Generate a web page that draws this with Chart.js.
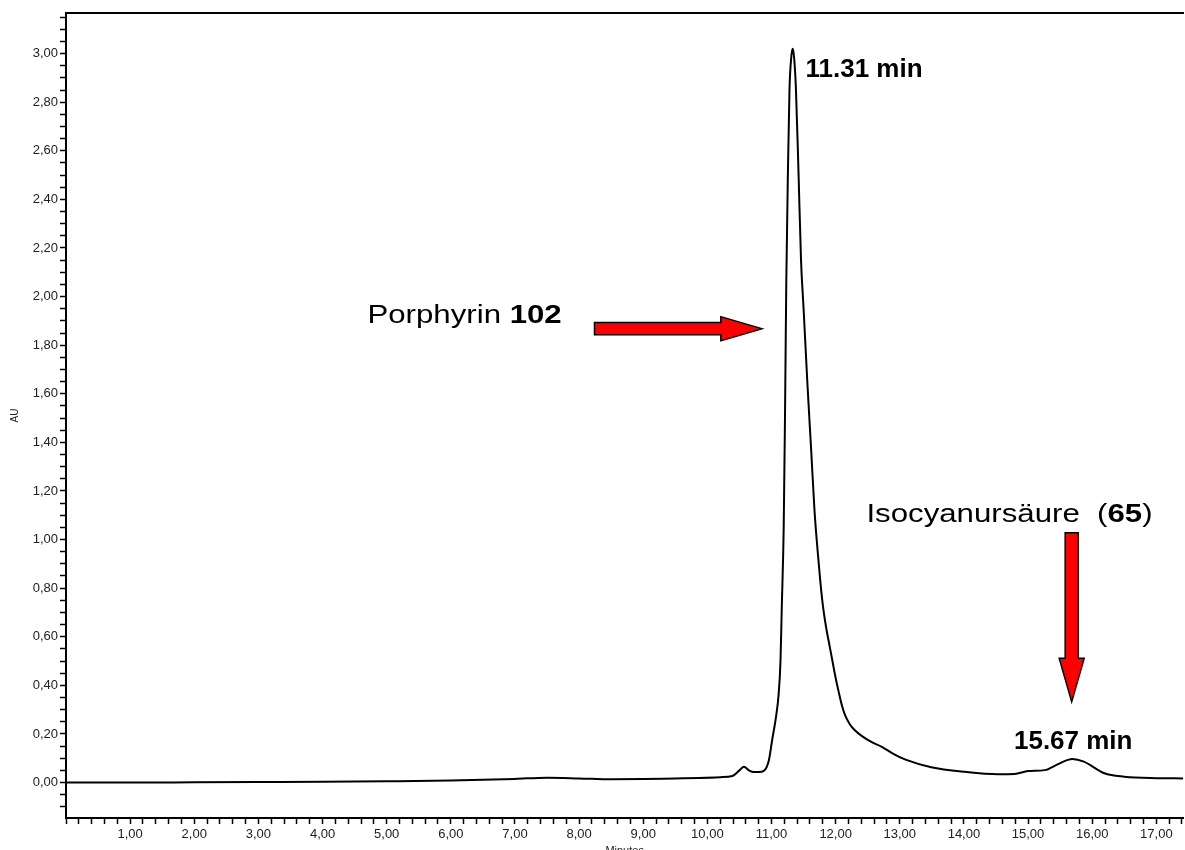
<!DOCTYPE html>
<html lang="de">
<head>
<meta charset="UTF-8">
<title>HPLC Chromatogramm</title>
<script src="https://cdn.jsdelivr.net/npm/chart.js@4.4.0/dist/chart.umd.min.js"></script>
<style>
  html, body { margin: 0; padding: 0; background: #fff; overflow: hidden; }
  #wrap { width: 1185px; height: 850px; overflow: hidden; }
</style>
</head>
<body>
<div id="wrap"><canvas id="chromChart" width="1185" height="860"></canvas></div>
<script>
// retention time (min) / absorbance (AU)
const retentionTimes = [0, 1, 2, 3, 4, 5, 6, 6.5, 7, 7.5, 8, 8.5, 9, 9.5, 9.87, 10.2, 10.39, 10.5, 10.57, 10.65,
  10.72, 10.8, 10.88, 10.96, 11.01, 11.07, 11.11, 11.14, 11.16, 11.19, 11.21, 11.23, 11.255, 11.28, 11.31, 11.33,
  11.35, 11.38, 11.42, 11.46, 11.5, 11.56, 11.62, 11.67, 11.72, 11.76, 11.8, 11.85, 11.9, 11.95, 12.0, 12.05, 12.1,
  12.15, 12.22, 12.3, 12.4, 12.55, 12.72, 12.9, 13.08, 13.49, 14.01, 14.53, 14.79, 15.0, 15.26, 15.46, 15.69, 15.87,
  16.19, 16.5, 17.0, 17.42];
const absorbance = [0.0, 0.0, 0.001, 0.002, 0.003, 0.005, 0.008, 0.011, 0.015, 0.02, 0.017, 0.013, 0.014, 0.017, 0.019, 0.022, 0.027, 0.05, 0.065, 0.05,
  0.043, 0.043, 0.048, 0.093, 0.175, 0.27, 0.36, 0.5, 0.72, 1.05, 1.5, 2.05, 2.5, 2.85, 2.99, 3.02,
  2.99, 2.86, 2.52, 2.15, 1.95, 1.64, 1.36, 1.12, 0.95, 0.83, 0.73, 0.64, 0.57, 0.5, 0.43, 0.37, 0.315,
  0.275, 0.24, 0.215, 0.193, 0.168, 0.147, 0.118, 0.095, 0.063, 0.044, 0.034, 0.035, 0.047, 0.051, 0.075, 0.097, 0.086,
  0.038, 0.024, 0.018, 0.017];

const xRange = [0, 17.42];
const yRange = [-0.146, 3.167];
const xTitle = 'Minutes';
const yTitle = 'AU';

// labels on the picture: [text, bold] parts, anchored in data units (left / baseline)
const noteTexts = [
  { x: 11.53, y: 2.902, size: 25, sx: 1.04, parts: [['11.31 min', true]] },
  { x: 14.78, y: 0.138, size: 25, sx: 1.04, parts: [['15.67 min', true]] },
  { x: 4.70, y: 1.89, size: 26, sx: 1.2, parts: [['Porphyrin ', false], ['102', true]] },
  { x: 12.48, y: 1.072, size: 26, sx: 1.2, parts: [['Isocyanursäure  (', false], ['65', true], [')', false]] }
];
// arrows: tail, start of head, tip (data units); half widths in px
const noteArrows = [
  { from: [8.24, 1.868], head: [10.21, 1.868], to: [10.85, 1.868], bw: 6.2, hw: 12 },
  { from: [15.68, 1.028], head: [15.68, 0.511], to: [15.68, 0.332], bw: 6.5, hw: 12.5 }
];

const FONT = '"Liberation Sans", Arial, Helvetica, sans-serif';

function commaLabel(v, step) {
  const k = v / step;
  if (Math.abs(k - Math.round(k)) > 1e-6) return '';
  return v.toFixed(2).replace('.', ',');
}

const notesPlugin = {
  id: 'notes',
  afterDatasetsDraw(chart) {
    const ctx = chart.ctx, xs = chart.scales.x, ys = chart.scales.y;
    ctx.save();
    noteArrows.forEach(a => {
      const ax = xs.getPixelForValue(a.from[0]), ay = ys.getPixelForValue(a.from[1]);
      const hx = xs.getPixelForValue(a.head[0]), hy = ys.getPixelForValue(a.head[1]);
      const bx = xs.getPixelForValue(a.to[0]), by = ys.getPixelForValue(a.to[1]);
      const len = Math.hypot(bx - ax, by - ay);
      const nx = -(by - ay) / len, ny = (bx - ax) / len;
      ctx.beginPath();
      ctx.moveTo(ax + nx * a.bw, ay + ny * a.bw);
      ctx.lineTo(hx + nx * a.bw, hy + ny * a.bw);
      ctx.lineTo(hx + nx * a.hw, hy + ny * a.hw);
      ctx.lineTo(bx, by);
      ctx.lineTo(hx - nx * a.hw, hy - ny * a.hw);
      ctx.lineTo(hx - nx * a.bw, hy - ny * a.bw);
      ctx.lineTo(ax - nx * a.bw, ay - ny * a.bw);
      ctx.closePath();
      ctx.fillStyle = '#ff0000';
      ctx.fill();
      ctx.lineWidth = 1.5;
      ctx.strokeStyle = '#000';
      ctx.lineJoin = 'miter';
      ctx.stroke();
    });
    ctx.fillStyle = '#000';
    ctx.textBaseline = 'alphabetic';
    ctx.textAlign = 'left';
    noteTexts.forEach(t => {
      ctx.save();
      ctx.translate(xs.getPixelForValue(t.x), ys.getPixelForValue(t.y));
      ctx.scale(t.sx, 1);
      let cx = 0;
      t.parts.forEach(([txt, bold]) => {
        ctx.font = (bold ? 'bold ' : '') + t.size + 'px ' + FONT;
        ctx.fillText(txt, cx, 0);
        cx += ctx.measureText(txt).width;
      });
      ctx.restore();
    });
    ctx.restore();
  }
};

const chromChart = new Chart(document.getElementById('chromChart'), {
  type: 'line',
  data: {
    datasets: [{
      data: retentionTimes.map((t, i) => ({ x: t, y: absorbance[i] })),
      borderColor: '#000',
      borderWidth: 2,
      pointRadius: 0,
      fill: false,
      cubicInterpolationMode: 'monotone'
    }]
  },
  options: {
    responsive: false,
    animation: false,
    layout: { padding: { top: 13, left: 0, right: 0, bottom: 0 } },
    plugins: { legend: { display: false }, tooltip: { enabled: false } },
    scales: {
      x: {
        type: 'linear', position: 'bottom', min: xRange[0], max: xRange[1],
        grid: { drawOnChartArea: false, tickLength: 6, color: '#000', tickWidth: 1.5 },
        border: { color: '#000', width: 2 },
        ticks: {
          stepSize: 0.2, autoSkip: false, maxRotation: 0, includeBounds: false, padding: 3,
          color: '#222', font: { family: FONT, size: 13 },
          callback: v => (v > 0.5 ? commaLabel(v, 1) : '')
        },
        title: { display: true, text: xTitle, color: '#222', font: { family: FONT, size: 11 }, padding: { top: 0, bottom: 2.4 } },
        afterFit: s => { s.height = 42; }
      },
      xTop: {
        type: 'linear', axis: 'x', position: 'top', min: xRange[0], max: xRange[1],
        grid: { display: false },
        border: { display: true, color: '#000', width: 2 },
        ticks: { display: false },
        afterFit: s => { s.height = 0; }
      },
      y: {
        type: 'linear', min: yRange[0], max: yRange[1],
        grid: { drawOnChartArea: false, tickLength: 6, color: '#000', tickWidth: 1.5 },
        border: { color: '#000', width: 2 },
        ticks: {
          stepSize: 0.05, autoSkip: false, includeBounds: false, padding: 2,
          color: '#222', font: { family: FONT, size: 13 },
          callback: v => commaLabel(v, 0.2)
        },
        title: { display: true, text: yTitle, color: '#222', font: { family: FONT, size: 10 }, padding: { top: 9, bottom: 0 } },
        afterFit: s => { s.width = 66; }
      }
    }
  },
  plugins: [notesPlugin]
});
</script>
</body>
</html>
